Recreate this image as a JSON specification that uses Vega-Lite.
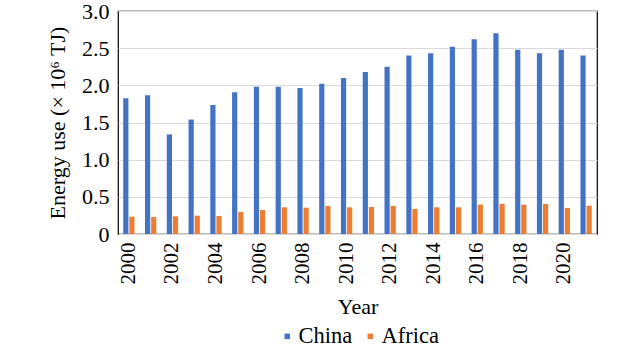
{
  "$schema": "https://vega.github.io/schema/vega-lite/v6.json",
  "autosize": "none",
  "width": 479,
  "height": 223,
  "padding": {"left": 118, "top": 11, "right": 42, "bottom": 115},
  "background": "white",
  "config": {
    "font": "Liberation Serif",
    "view": {"stroke": "black", "strokeWidth": 1.2},
    "axis": {"labelFont": "Liberation Serif", "titleFont": "Liberation Serif", "labelColor": "black", "titleColor": "black", "titleFontWeight": "normal"},
    "legend": {"labelFont": "Liberation Serif"}
  },
  "data": {
    "values": [
      {"year": 2000, "region": "China", "value": 1.825},
      {"year": 2001, "region": "China", "value": 1.865},
      {"year": 2002, "region": "China", "value": 1.34},
      {"year": 2003, "region": "China", "value": 1.54},
      {"year": 2004, "region": "China", "value": 1.735},
      {"year": 2005, "region": "China", "value": 1.906},
      {"year": 2006, "region": "China", "value": 1.98},
      {"year": 2007, "region": "China", "value": 1.98},
      {"year": 2008, "region": "China", "value": 1.965},
      {"year": 2009, "region": "China", "value": 2.02},
      {"year": 2010, "region": "China", "value": 2.10},
      {"year": 2011, "region": "China", "value": 2.18},
      {"year": 2012, "region": "China", "value": 2.25},
      {"year": 2013, "region": "China", "value": 2.40},
      {"year": 2014, "region": "China", "value": 2.43},
      {"year": 2015, "region": "China", "value": 2.52},
      {"year": 2016, "region": "China", "value": 2.62},
      {"year": 2017, "region": "China", "value": 2.70},
      {"year": 2018, "region": "China", "value": 2.48},
      {"year": 2019, "region": "China", "value": 2.43},
      {"year": 2020, "region": "China", "value": 2.48},
      {"year": 2021, "region": "China", "value": 2.40},
      {"year": 2000, "region": "Africa", "value": 0.233},
      {"year": 2001, "region": "Africa", "value": 0.229},
      {"year": 2002, "region": "Africa", "value": 0.238},
      {"year": 2003, "region": "Africa", "value": 0.247},
      {"year": 2004, "region": "Africa", "value": 0.242},
      {"year": 2005, "region": "Africa", "value": 0.296},
      {"year": 2006, "region": "Africa", "value": 0.323},
      {"year": 2007, "region": "Africa", "value": 0.359},
      {"year": 2008, "region": "Africa", "value": 0.354},
      {"year": 2009, "region": "Africa", "value": 0.377},
      {"year": 2010, "region": "Africa", "value": 0.359},
      {"year": 2011, "region": "Africa", "value": 0.363},
      {"year": 2012, "region": "Africa", "value": 0.377},
      {"year": 2013, "region": "Africa", "value": 0.336},
      {"year": 2014, "region": "Africa", "value": 0.359},
      {"year": 2015, "region": "Africa", "value": 0.359},
      {"year": 2016, "region": "Africa", "value": 0.395},
      {"year": 2017, "region": "Africa", "value": 0.404},
      {"year": 2018, "region": "Africa", "value": 0.395},
      {"year": 2019, "region": "Africa", "value": 0.404},
      {"year": 2020, "region": "Africa", "value": 0.35},
      {"year": 2021, "region": "Africa", "value": 0.381}
    ]
  },
  "mark": {"type": "bar"},
  "encoding": {
    "x": {
      "field": "year",
      "type": "ordinal",
      "scale": {"paddingInner": 0.48, "paddingOuter": 0.24},
      "axis": {
        "title": "Year",
        "titleFontSize": 22,
        "titlePadding": 12,
        "labelFontSize": 21,
        "labelAngle": -90,
        "labelAlign": "right",
        "labelBaseline": "middle",
        "labelPadding": 8,
        "labelExpr": "datum.value % 2 == 0 ? datum.label : ''",
        "ticks": false,
        "domain": false,
        "grid": false
      }
    },
    "xOffset": {
      "field": "region",
      "type": "nominal",
      "sort": ["China", "Africa"],
      "scale": {"paddingInner": 0.15}
    },
    "y": {
      "field": "value",
      "type": "quantitative",
      "scale": {"domain": [0, 3], "nice": false},
      "axis": {
        "title": "Energy use (× 10⁶ TJ)",
        "titleFontSize": 22,
        "titlePadding": 12,
        "labelFontSize": 22,
        "labelPadding": 9,
        "values": [0, 0.5, 1, 1.5, 2, 2.5, 3],
        "labelExpr": "datum.value == 0 ? '0' : format(datum.value, '.1f')",
        "ticks": false,
        "domain": false,
        "grid": true,
        "gridColor": "#D9D9D9",
        "gridWidth": 1
      }
    },
    "color": {
      "field": "region",
      "type": "nominal",
      "sort": ["China", "Africa"],
      "scale": {"domain": ["China", "Africa"], "range": ["#4472C4", "#ED7D31"]},
      "legend": {
        "title": null,
        "orient": "none",
        "direction": "horizontal",
        "legendX": 158,
        "legendY": 314,
        "symbolType": "square",
        "symbolSize": 30,
        "symbolStrokeWidth": 0,
        "labelFont": "Liberation Serif",
        "labelFontSize": 22.5,
        "labelColor": "black",
        "labelOffset": 0,
        "columnPadding": 6
      }
    }
  }
}
